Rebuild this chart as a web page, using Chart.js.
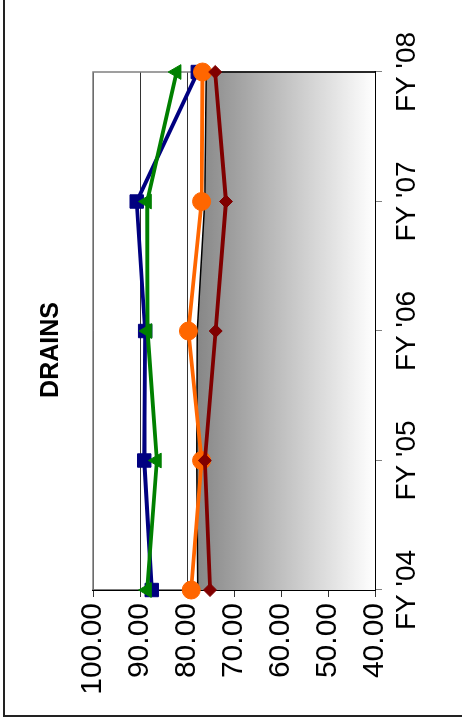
<!DOCTYPE html>
<html>
<head>
<meta charset="utf-8">
<script src="https://cdn.jsdelivr.net/npm/chart.js@4/dist/chart.umd.min.js"></script>
<style>
	html, body { margin: 0; padding: 0; background: #fff; }
	#page { position: relative; width: 462px; height: 719px; overflow: hidden; }
	.rule { position: absolute; background: #222; }
	/* chart is drawn landscape, then turned a quarter counter-clockwise */
	#rotor { position: absolute; left: 0; top: 0; width: 719px; height: 462px; transform-origin: 0 0; transform: translateY(719px) rotate(-90deg); }
</style>
</head>
<body>
<div id="page">
	<div id="rotor"><canvas id="chart-drains" width="719" height="462"></canvas></div>
	<div class="rule" style="left:3px;top:0;width:2px;height:717px"></div>
	<div class="rule" style="left:3px;top:715px;width:459px;height:2px"></div>
</div>
<script>
//
// Drains chart
//

'use strict';

// Data

var categories = ["FY '04", "FY '05", "FY '06", "FY '07", "FY '08"];
var valueTicks = [40, 50, 60, 70, 80, 90, 100];
var areaValues = [77.7, 77.9, 77.8, 76.2, 75.9];
var blueValues = [87.5, 89.1, 88.9, 90.7, 77.7];
var greenValues = [88.5, 86.4, 88.4, 88.5, 82.2];
var orangeValues = [79.1, 76.9, 79.7, 76.9, 76.7];
var redValues = [75.1, 76.2, 73.9, 71.7, 74.0];

var DrainsChart = (function() {

	// Variables

	var canvas = document.getElementById('chart-drains');
	var fontFamily = 'Arial, "Liberation Sans", sans-serif';


	// Methods

	function areaFill(context) {
		var chart = context.chart;
		if (!chart.chartArea) {
			return '#999';
		}
		var y = chart.scales.y;
		var g = chart.ctx.createLinearGradient(0, y.getPixelForValue(78), 0, y.getPixelForValue(40));
		g.addColorStop(0, '#868686');
		g.addColorStop(1, '#ffffff');
		return g;
	}

	// gray frame on the two open sides, black edge closing the area
	var plotFrame = {
		id: 'plotFrame',
		afterDatasetDraw: function(chart, args) {
			if (args.index !== 0) return;
			var ctx = chart.ctx;
			var a = chart.chartArea;
			var x = chart.scales.x;
			var y = chart.scales.y;
			var last = areaValues.length - 1;
			ctx.save();
			ctx.lineWidth = 1.5;
			ctx.strokeStyle = '#808080';
			ctx.beginPath();
			ctx.moveTo(a.left, a.top);
			ctx.lineTo(a.right, a.top);
			ctx.lineTo(a.right, a.bottom);
			ctx.stroke();
			ctx.strokeStyle = '#000';
			ctx.beginPath();
			ctx.moveTo(x.getPixelForValue(last), y.getPixelForValue(areaValues[last]));
			ctx.lineTo(x.getPixelForValue(last), a.bottom);
			ctx.stroke();
			ctx.restore();
		}
	};

	function lineSet(data, color, style, radius, order) {
		return {
			data: data,
			borderColor: color,
			backgroundColor: color,
			borderWidth: 3.8,
			pointStyle: style,
			pointRadius: radius,
			pointBorderWidth: 1,
			pointBorderColor: color,
			pointBackgroundColor: color,
			fill: false,
			tension: 0,
			clip: false,
			order: order
		};
	}

	function init(el) {
		var chart = new Chart(el, {
			type: 'line',
			data: {
				labels: categories,
				datasets: [
					{
						data: areaValues,
						borderColor: '#000',
						borderWidth: 1.5,
						backgroundColor: areaFill,
						fill: 'start',
						pointRadius: 0,
						tension: 0,
						order: 5
					},
					lineSet(blueValues, '#000080', 'rect', 9.5, 4),
					lineSet(greenValues, '#008000', 'triangle', 8.5, 3),
					lineSet(orangeValues, '#FF6600', 'circle', 9, 2),
					lineSet(redValues, '#800000', 'rectRot', 6.5, 1)
				]
			},
			options: {
				responsive: false,
				animation: false,
				devicePixelRatio: 1,
				layout: {
					padding: { left: 19, right: 0, top: 0, bottom: 0 }
				},
				plugins: {
					legend: { display: false },
					tooltip: { enabled: false },
					title: {
						display: true,
						text: 'DRAINS',
						color: '#000',
						font: { family: fontFamily, size: 25, weight: 'bold', lineHeight: 1.2 },
						padding: { top: 36, bottom: 27 }
					}
				},
				scales: {
					x: {
						offset: false,
						grid: { drawOnChartArea: false, tickLength: 7, color: '#808080' },
						border: { color: '#000', width: 2 },
						ticks: { color: '#000', padding: 8, maxRotation: 0, font: { family: fontFamily, size: 28 } },
						afterFit: function(scale) { scale.height = 87; }
					},
					y: {
						min: 40,
						max: 100,
						afterBuildTicks: function(scale) {
							scale.ticks = valueTicks.map(function(v) { return { value: v }; });
						},
						grid: { color: '#333', lineWidth: 1, tickLength: 7 },
						border: { color: '#000', width: 1.5 },
						ticks: {
							color: '#000',
							padding: 6,
							font: { family: fontFamily, size: 30 },
							callback: function(v) { return Number(v).toFixed(2); }
						},
						afterFit: function(scale) { scale.width = 110; }
					},
					// empty right-hand strip that keeps the plot where it sits in the source
					spacer: {
						type: 'linear',
						axis: 'y',
						position: 'right',
						grid: { drawOnChartArea: false, drawTicks: false },
						border: { display: false },
						ticks: { display: false },
						afterFit: function(scale) { scale.width = 72; }
					}
				}
			},
			plugins: [plotFrame]
		});

		return chart;
	}


	// Events

	if (canvas) {
		return init(canvas);
	}

})();
</script>
</body>
</html>
